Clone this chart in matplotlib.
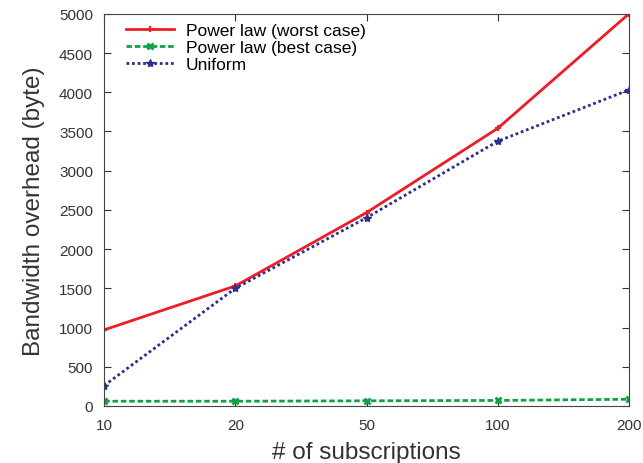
import matplotlib
matplotlib.use("Agg")
import matplotlib.pyplot as plt

plt.rcParams['font.family'] = ['Liberation Sans', 'DejaVu Sans']

subs = ['10', '20', '50', '100', '200']
worst = [970, 1530, 2465, 3540, 5000]
best = [60, 60, 65, 70, 85]
uniform = [260, 1500, 2400, 3375, 4030]

fig = plt.figure(figsize=(6.43, 4.64), dpi=100)
ax = fig.add_axes([0.162, 0.123, 0.816, 0.845])

x = range(len(subs))
ax.plot(x, worst, color='#ee1c25', lw=2, marker='+', ms=5, mew=1.5, label='Power law (worst case)')
ax.plot(x, best, color='#0fa345', lw=2, ls=(0, (2, 1)), marker='x', ms=4, mew=2, label='Power law (best case)')
ax.plot(x, uniform, color='#2b2f8f', lw=2, ls=(0, (1, 1)), marker='*', ms=6, label='Uniform')

ax.set_xlim(0, len(subs) - 1)
ax.set_ylim(0, 5000)
ax.set_xticks(list(x))
ax.set_xticklabels(subs)
ax.set_yticks(range(0, 5001, 500))
ax.tick_params(direction='in', top=True, right=True, labelsize=11, colors='#333333', length=5)
ax.tick_params(axis='x', pad=9)
ax.tick_params(axis='y', pad=8)
for s in ax.spines.values():
    s.set_color('#444444')

ax.set_xlabel('# of subscriptions', fontsize=17.5, color='#333333', labelpad=6)
ax.set_ylabel('Bandwidth overhead (byte)', fontsize=17.5, color='#333333', labelpad=10)

ax.legend(loc='upper left', frameon=False, fontsize=12.5, handlelength=2.75, handletextpad=0.7,
          borderaxespad=0.1, labelspacing=0.12, bbox_to_anchor=(0.025, 1.0))

fig.savefig('out.png', dpi=100)
